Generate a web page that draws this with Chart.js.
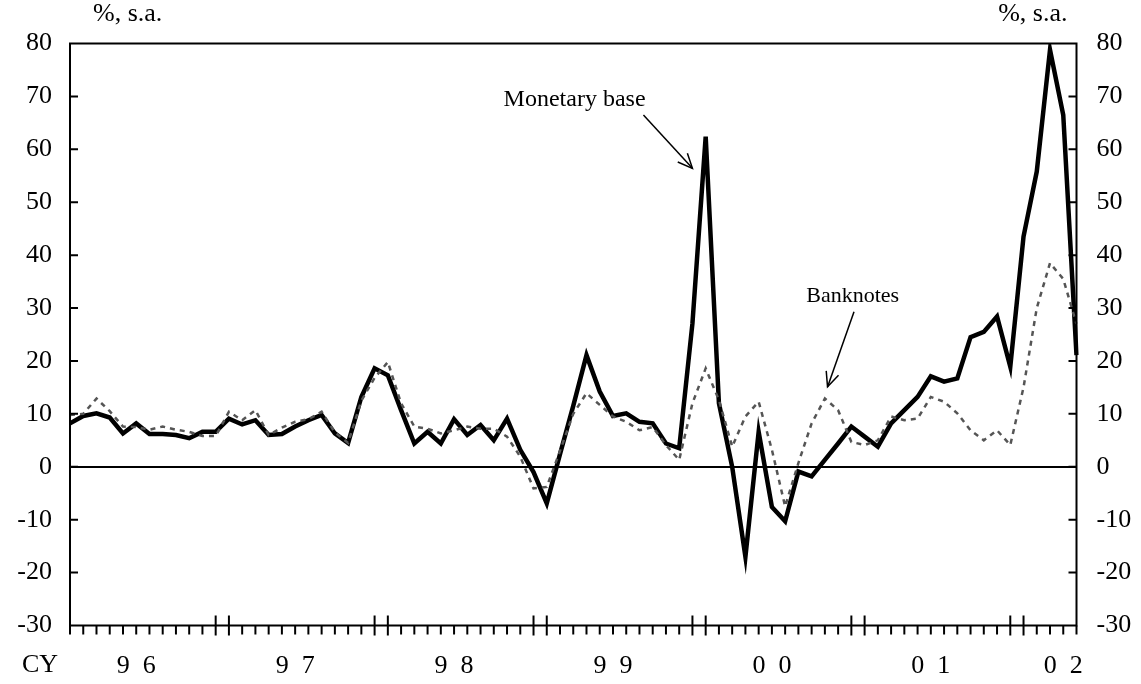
<!DOCTYPE html>
<html>
<head>
<meta charset="utf-8">
<script src="https://cdn.jsdelivr.net/npm/chart.js@4/dist/chart.umd.min.js"></script>
<style>
  html, body { margin: 0; padding: 0; background: #fff; }
  #wrap { width: 1141px; height: 684px; position: relative; }
</style>
</head>
<body>
<div id="wrap"><canvas id="c" width="1141" height="684"></canvas></div>
<script>
// ---- categories (monthly, Jan 1996 .. May 2002) ----
const months = [
 '1996-01','1996-02','1996-03','1996-04','1996-05','1996-06','1996-07','1996-08','1996-09','1996-10','1996-11','1996-12',
 '1997-01','1997-02','1997-03','1997-04','1997-05','1997-06','1997-07','1997-08','1997-09','1997-10','1997-11','1997-12',
 '1998-01','1998-02','1998-03','1998-04','1998-05','1998-06','1998-07','1998-08','1998-09','1998-10','1998-11','1998-12',
 '1999-01','1999-02','1999-03','1999-04','1999-05','1999-06','1999-07','1999-08','1999-09','1999-10','1999-11','1999-12',
 '2000-01','2000-02','2000-03','2000-04','2000-05','2000-06','2000-07','2000-08','2000-09','2000-10','2000-11','2000-12',
 '2001-01','2001-02','2001-03','2001-04','2001-05','2001-06','2001-07','2001-08','2001-09','2001-10','2001-11','2001-12',
 '2002-01','2002-02','2002-03','2002-04','2002-05'
];

// ---- series values (%, s.a.) ----
const monetaryBase = [
 8.2, 9.6, 10.1, 9.3, 6.3, 8.2, 6.2, 6.2, 6.0, 5.4, 6.6, 6.6,
 9.1, 8.0, 8.8, 6.0, 6.2, 7.6, 8.8, 9.8, 6.3, 4.5, 13.2, 18.6,
 17.3, 10.7, 4.4, 6.6, 4.4, 9.0, 6.0, 7.9, 5.0, 9.1, 3.2, -1.0,
 -6.9, 2.4, 11.5, 21.1, 14.2, 9.6, 10.1, 8.5, 8.2, 4.4, 3.5, 27.1,
 62.4, 12.0, 0.0, -17.0, 6.6, -7.6, -10.3, -0.9, -1.8, 1.3, 4.4, 7.6,
 5.7, 3.8, 8.2, 10.7, 13.2, 17.1, 16.1, 16.7, 24.5, 25.5, 28.4, 18.9,
 43.5, 55.8, 78.8, 66.5, 21.1
];
const banknotes = [
 9.8, 10.0, 12.9, 10.5, 7.6, 7.5, 7.0, 7.6, 7.0, 6.6, 5.8, 5.8,
 10.4, 8.8, 10.7, 6.0, 7.4, 8.5, 9.0, 10.4, 6.5, 4.5, 12.5, 16.8,
 19.8, 12.0, 7.6, 7.2, 6.3, 6.9, 7.6, 7.2, 7.2, 5.7, 1.9, -4.1,
 -3.8, 3.0, 10.0, 13.9, 11.7, 9.5, 8.5, 6.9, 7.5, 4.1, 1.3, 12.0,
 18.6, 12.6, 3.8, 9.5, 12.3, 3.2, -7.5, 0.7, 8.2, 12.9, 10.7, 4.7,
 4.1, 5.0, 9.5, 8.8, 9.1, 13.2, 12.3, 10.1, 6.9, 5.0, 6.9, 4.1,
 15.0, 30.0, 38.5, 35.5, 27.0
];

// ---- tick labels ----
const yearLabels = ['9\u20026', '9\u20027', '9\u20028', '9\u20029', '0\u20020', '0\u20021', '0\u20022'];
const yearLabelAt = [5, 17, 29, 41, 53, 65, 75];   // category index under which each year label sits
const yearBreakAt = [11, 12, 23, 24, 35, 36, 47, 48, 59, 60, 71, 72]; // long tick marks
const yMin = -30, yMax = 80, yStep = 10;

const FONT = "'Liberation Serif', 'Times New Roman', serif";
const FSIZE = 26;

const decor = {
  id: 'decor',
  afterDatasetsDraw(chart) {
    const ctx = chart.ctx, a = chart.chartArea;
    const xs = chart.scales.x, ys = chart.scales.y;
    ctx.save();
    // frame
    ctx.strokeStyle = '#000';
    ctx.lineWidth = 2;
    ctx.strokeRect(a.left, a.top, a.right - a.left, a.bottom - a.top);
    // y ticks (inward, both sides)
    for (let v = yMin + yStep; v < yMax; v += yStep) {
      const y = ys.getPixelForValue(v);
      ctx.beginPath();
      ctx.moveTo(a.left, y); ctx.lineTo(a.left + 8, y);
      ctx.moveTo(a.right, y); ctx.lineTo(a.right - 8, y);
      ctx.stroke();
    }
    // x month ticks
    for (let i = 0; i < months.length; i++) {
      const x = xs.getPixelForValue(i);
      ctx.beginPath();
      if (yearBreakAt.includes(i)) {
        ctx.moveTo(x, a.bottom - 10); ctx.lineTo(x, a.bottom + 10);
      } else {
        ctx.moveTo(x, a.bottom); ctx.lineTo(x, a.bottom + 9);
      }
      ctx.stroke();
    }
    // texts
    ctx.fillStyle = '#000';
    ctx.font = FSIZE + 'px ' + FONT;
    ctx.textBaseline = 'middle';
    ctx.textAlign = 'left';
    ctx.fillText('%, s.a.', a.left + 23, 14);
    ctx.textAlign = 'right';
    ctx.fillText('%, s.a.', a.right - 9, 14);
    ctx.textAlign = 'center';
    ctx.fillText('CY', 40, 665);

    // annotations
    const P = (i, v) => [xs.getPixelForValue(i), ys.getPixelForValue(v)];
    const arrow = (from, to) => {
      const [x1, y1] = from, [x2, y2] = to;
      ctx.lineWidth = 1.5;
      ctx.beginPath(); ctx.moveTo(x1, y1); ctx.lineTo(x2, y2); ctx.stroke();
      const ang = Math.atan2(y2 - y1, x2 - x1), L = 16, w = 0.42;
      ctx.beginPath();
      ctx.moveTo(x2 - L * Math.cos(ang - w), y2 - L * Math.sin(ang - w));
      ctx.lineTo(x2, y2);
      ctx.lineTo(x2 - L * Math.cos(ang + w), y2 - L * Math.sin(ang + w));
      ctx.stroke();
    };
    ctx.font = '24px ' + FONT;
    let p = P(38.1, 69.3);
    ctx.fillText('Monetary base', p[0], p[1]);
    arrow(P(43.3, 66.5), P(47.0, 56.4));
    ctx.font = '22px ' + FONT;
    p = P(59.1, 32.3);
    ctx.fillText('Banknotes', p[0], p[1]);
    arrow(P(59.2, 29.3), P(57.2, 15.1));
    ctx.restore();
  }
};

new Chart(document.getElementById('c'), {
  type: 'line',
  data: {
    labels: months,
    datasets: [
      {
        label: 'Banknotes',
        data: banknotes,
        borderColor: '#555',
        borderWidth: 2.5,
        borderDash: [5, 5],
        pointRadius: 0,
        tension: 0,
        yAxisID: 'y',
        order: 0
      },
      {
        label: 'Monetary base',
        data: monetaryBase,
        borderColor: '#000',
        borderWidth: 4.5,
        pointRadius: 0,
        tension: 0,
        borderJoinStyle: 'miter',
        yAxisID: 'y',
        order: 1
      }
    ]
  },
  options: {
    responsive: false,
    animation: false,
    layout: { padding: { top: 43.5, left: 0, right: 0, bottom: 0 } },
    plugins: { legend: { display: false }, tooltip: { enabled: false } },
    scales: {
      x: {
        type: 'category',
        offset: false,
        grid: { display: false, drawTicks: false },
        border: { display: false },
        ticks: {
          autoSkip: false, maxRotation: 0, minRotation: 0, padding: 25,
          color: '#000',
          font: { family: FONT, size: FSIZE },
          callback: (v, i) => { const k = yearLabelAt.indexOf(i); return k >= 0 ? yearLabels[k] : ''; }
        },
        afterFit: s => { s.height = 58.5; }
      },
      y: {
        position: 'left',
        min: yMin, max: yMax,
        grid: {
          drawTicks: false,
          lineWidth: 2,
          color: c => (c.tick && c.tick.value === 0) ? '#000' : 'rgba(0,0,0,0)'
        },
        border: { display: false },
        ticks: { stepSize: yStep, padding: 18, color: '#000', font: { family: FONT, size: FSIZE } },
        afterFit: s => { s.width = 70; }
      },
      y2: {
        position: 'right',
        min: yMin, max: yMax,
        grid: { display: false, drawTicks: false },
        border: { display: false },
        ticks: { stepSize: yStep, padding: 20, color: '#000', font: { family: FONT, size: FSIZE } },
        afterFit: s => { s.width = 64.5; }
      }
    }
  },
  plugins: [decor]
});
</script>
</body>
</html>
